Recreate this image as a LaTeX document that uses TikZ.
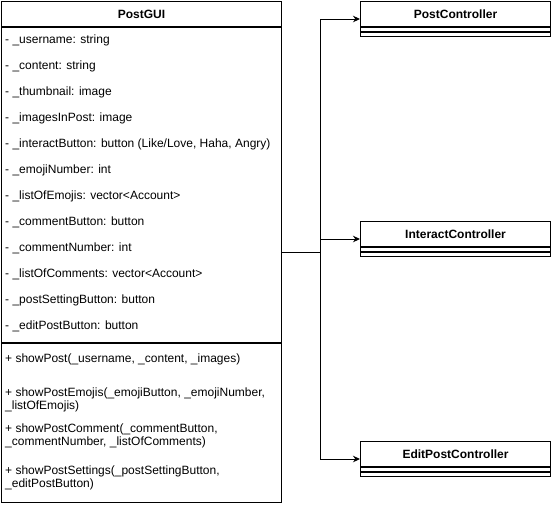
\documentclass[tikz,border=0pt]{standalone}
\usepackage{fontspec}
\setmainfont{Liberation Sans}
\usepackage{tikz}
\usetikzlibrary{arrows.meta,positioning,calc}

\begin{document}
\begin{tikzpicture}[
      x=1pt,y=-1pt,
      font=\fontsize{12}{13.5}\selectfont,
      classhead/.style={rectangle,draw,line width=1pt,minimum height=25pt,
                        inner sep=0pt,font=\fontsize{12}{13.5}\selectfont\bfseries},
      classbody/.style={rectangle,draw,line width=1pt,inner sep=0pt},
      member/.style={anchor=west,inner sep=0pt,align=left},
      link/.style={-{Stealth[length=7pt,width=6.5pt]},line width=1pt},
      >=Stealth
    ]
    \useasboundingbox (0,0) rectangle (551,504);

    % Main GUI class
    \node[classhead,minimum width=280pt,anchor=north west] (gui) at (1,1) {PostGUI};
    \node[classbody,minimum width=280pt,minimum height=315pt,anchor=north] (guiattr) at (gui.south) {};
    \node[classbody,minimum width=280pt,minimum height=159pt,anchor=north] (guiops) at (guiattr.south) {};

    % Attributes
    \foreach \txt [count=\i] in {
        {- \_username: string},
        {- \_content: string},
        {- \_thumbnail: image},
        {- \_imagesInPost: image},
        {- \_interactButton: button (Like/Love, Haha, Angry)},
        {- \_emojiNumber: int},
        {- \_listOfEmojis: vector<Account>},
        {- \_commentButton: button},
        {- \_commentNumber: int},
        {- \_listOfComments: vector<Account>},
        {- \_postSettingButton: button},
        {- \_editPostButton: button}}
      \node[member] (attr\i) at (5,{14+26*\i}) {\txt};

    % Operations
    \node[member] (op1) at (5,359.5) {+ showPost(\_username, \_content, \_images)};
    \node[member] (op2) at (5,400) {+ showPostEmojis(\_emojiButton, \_emojiNumber,\\\_listOfEmojis)};
    \node[member] (op3) at (5,436) {+ showPostComment(\_commentButton,\\\_commentNumber, \_listOfComments)};
    \node[member] (op4) at (5,478) {+ showPostSettings(\_postSettingButton,\\\_editPostButton)};

    % Controllers
    \node[classhead,minimum width=190pt,anchor=north west] (postctl) at (360,1) {PostController};
    \node[classbody,minimum width=190pt,minimum height=4pt,anchor=north] (postctlattr) at (postctl.south) {};
    \node[classbody,minimum width=190pt,minimum height=4pt,anchor=north] (postctlops) at (postctlattr.south) {};

    \node[classhead,minimum width=190pt,anchor=north west] (interctl) at (360,221) {InteractController};
    \node[classbody,minimum width=190pt,minimum height=4pt,anchor=north] (interctlattr) at (interctl.south) {};
    \node[classbody,minimum width=190pt,minimum height=4pt,anchor=north] (interctlops) at (interctlattr.south) {};

    \node[classhead,minimum width=190pt,anchor=north west] (editctl) at (360,441) {EditPostController};
    \node[classbody,minimum width=190pt,minimum height=4pt,anchor=north] (editctlattr) at (editctl.south) {};
    \node[classbody,minimum width=190pt,minimum height=4pt,anchor=north] (editctlops) at (editctlattr.south) {};

    % Connectors
    \coordinate (guimid) at ($(gui.north east)!0.5!(guiops.south east)$);
    \coordinate (split) at (320,250);
    \coordinate (postmid) at ($(postctl.north west)!0.5!(postctlops.south west)$);
    \coordinate (intermid) at ($(interctl.north west)!0.5!(interctlops.south west)$);
    \coordinate (editmid) at ($(editctl.north west)!0.5!(editctlops.south west)$);

    \draw[line width=1pt] (guimid) -- (split |- guimid);
    \draw[link] (split |- guimid) |- (postmid);
    \draw[link] (split |- guimid) |- (intermid);
    \draw[link] (split |- guimid) |- (editmid);

  \end{tikzpicture}
\end{document}
